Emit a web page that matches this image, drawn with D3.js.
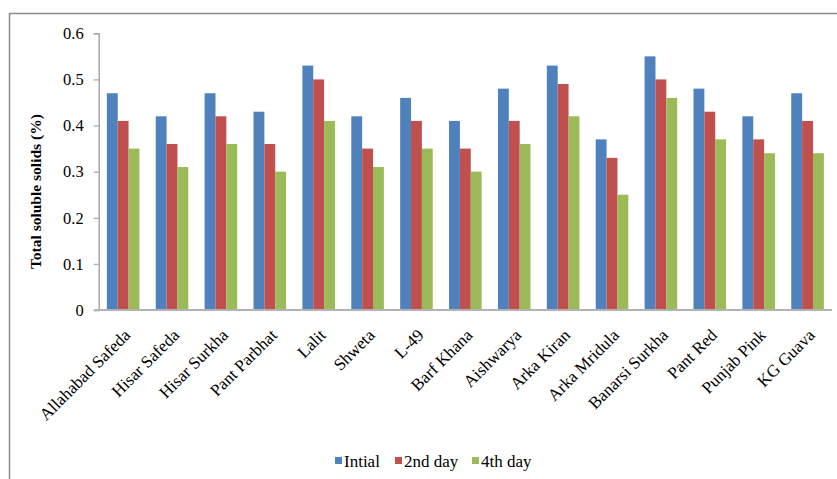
<!DOCTYPE html>
<html>
<head>
<meta charset="utf-8">
<script src="https://cdn.jsdelivr.net/npm/d3@7/dist/d3.min.js"></script>
<style>
  html, body { margin: 0; padding: 0; background: #fff; }
  svg { display: block; }
  text { font-family: "Liberation Serif", "Times New Roman", serif; fill: #000; }
</style>
</head>
<body>
<svg id="chart" width="837" height="479"></svg>
<script>
// Guava cultivars and total soluble solids (%) over storage
const categories = ["Allahabad Safeda", "Hisar Safeda", "Hisar Surkha", "Pant Parbhat", "Lalit",
  "Shweta", "L-49", "Barf Khana", "Aishwarya", "Arka Kiran", "Arka Mridula", "Banarsi Surkha",
  "Pant Red", "Punjab Pink", "KG Guava"];
const seriesNames = ["Intial", "2nd day", "4th day"];
const initial = [0.47, 0.42, 0.47, 0.43, 0.53, 0.42, 0.46, 0.41, 0.48, 0.53, 0.37, 0.55, 0.48, 0.42, 0.47];
const day2    = [0.41, 0.36, 0.42, 0.36, 0.50, 0.35, 0.41, 0.35, 0.41, 0.49, 0.33, 0.50, 0.43, 0.37, 0.41];
const day4    = [0.35, 0.31, 0.36, 0.30, 0.41, 0.31, 0.35, 0.30, 0.36, 0.42, 0.25, 0.46, 0.37, 0.34, 0.34];
const yTicks = [0, 0.1, 0.2, 0.3, 0.4, 0.5, 0.6];
const colors = ["#4F81BD", "#C0504D", "#9BBB59"];

const FONT = "'Liberation Serif', 'Times New Roman', serif";
const seriesValues = [initial, day2, day4];
const rows = categories.map((c, i) => ({
  category: c,
  values: seriesNames.map((s, j) => ({ series: s, idx: j, value: seriesValues[j][i] }))
}));

const svg = d3.select("#chart");

// outer chart frame (top and left edges visible)
svg.append("line").attr("x1", 9).attr("x2", 837).attr("y1", 13.5).attr("y2", 13.5)
  .attr("stroke", "#8c8c8c").attr("stroke-width", 1.5);
svg.append("line").attr("x1", 9.5).attr("x2", 9.5).attr("y1", 13).attr("y2", 479)
  .attr("stroke", "#8c8c8c").attr("stroke-width", 1.5);

const plot = { left: 98.7, right: 832, top: 33.3, bottom: 310 };

const x = d3.scaleBand().domain(categories)
  .range([plot.left, plot.right])
  .paddingInner(1 / 3).paddingOuter(1 / 6);
const xs = d3.scaleBand().domain(seriesNames).range([0, x.bandwidth()]);
const y = d3.scaleLinear().domain([0, 0.6]).range([plot.bottom, plot.top]);

// bars
const groups = svg.append("g").selectAll("g").data(rows).join("g")
  .attr("transform", d => `translate(${x(d.category)},0)`);
groups.selectAll("rect").data(d => d.values).join("rect")
  .attr("x", d => xs(d.series))
  .attr("y", d => y(d.value))
  .attr("width", xs.bandwidth())
  .attr("height", d => y(0) - y(d.value))
  .attr("fill", d => colors[d.idx]);

// y axis
const yAxis = svg.append("g").attr("transform", `translate(${plot.left},0)`)
  .call(d3.axisLeft(y).tickValues(yTicks).tickFormat(d3.format("")).tickSize(5).tickPadding(10));
yAxis.attr("font-family", FONT);
yAxis.select(".domain").attr("stroke", "#a6a6a6").attr("stroke-width", 1.5);
yAxis.selectAll(".tick line").attr("stroke", "#a6a6a6").attr("stroke-width", 1.2);
yAxis.selectAll(".tick text").attr("font-family", FONT).style("font-size", "16.5px").attr("fill", "#000");

// x axis baseline and rotated category labels
const xAxis = svg.append("g").attr("transform", `translate(0,${plot.bottom})`)
  .call(d3.axisBottom(x).tickSize(0).tickPadding(0));
xAxis.attr("font-family", FONT);
xAxis.select(".domain").attr("stroke", "#b3b3b3").attr("stroke-width", 2)
  .attr("d", `M${plot.left - 4},0H${plot.right}`);
xAxis.selectAll(".tick text")
  .attr("font-family", FONT).style("font-size", "17px").attr("fill", "#000")
  .attr("text-anchor", "end")
  .attr("y", 0)
  .attr("transform", "translate(4,22) rotate(-45)")
  .attr("dy", "0.35em");

// y axis title
svg.append("text")
  .attr("transform", `translate(41,${(plot.top + plot.bottom) / 2 + 20}) rotate(-90)`)
  .attr("text-anchor", "middle")
  .attr("font-family", FONT)
  .style("font-size", "15.5px").style("font-weight", "bold")
  .text("Total soluble solids (%)");

// legend
const legendItems = [
  { name: seriesNames[0], x: 335 },
  { name: seriesNames[1], x: 395 },
  { name: seriesNames[2], x: 472 }
];
const lg = svg.append("g").selectAll("g").data(legendItems).join("g")
  .attr("transform", d => `translate(${d.x},461)`);
lg.append("rect").attr("x", 0).attr("y", -4).attr("width", 7).attr("height", 7)
  .attr("fill", (d, i) => colors[i]);
lg.append("text").attr("x", 9).attr("y", 0).attr("dy", "0.35em")
  .attr("font-family", FONT)
  .style("font-size", "17px").text(d => d.name);
</script>
</body>
</html>
